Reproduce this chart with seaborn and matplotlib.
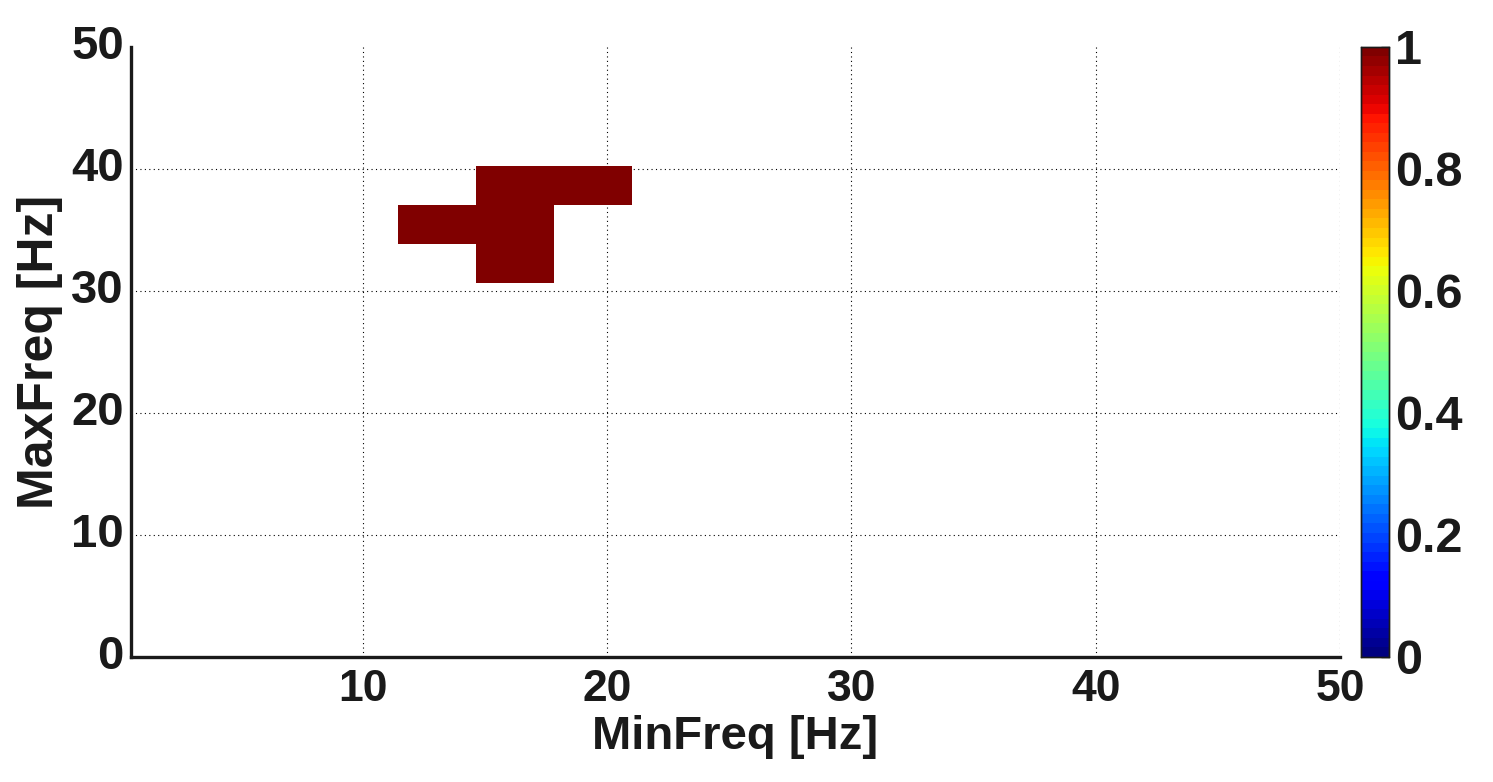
import matplotlib
matplotlib.use("Agg")
import matplotlib.pyplot as plt
import numpy as np
import seaborn as sns
from matplotlib.ticker import FuncFormatter

# frequency bins (Hz) of the search grid
bin_width = 3.197
first_edge = -1.358
n_bins = 17

# cells with a non-zero score (bin centres in Hz)
min_freq_hot = [16.2, 19.4, 13.0, 16.2, 16.2]
max_freq_hot = [38.6, 38.6, 35.4, 35.4, 32.2]
hot_value = [1.0, 1.0, 1.0, 1.0, 1.0]

x_ticks = [10, 20, 30, 40, 50]
y_ticks = [0, 10, 20, 30, 40, 50]
cbar_ticks = [0, 0.2, 0.4, 0.6, 0.8, 1.0]


def to_cell(hz):
    return (np.asarray(hz, dtype=float) - first_edge) / bin_width


score = np.full((n_bins, n_bins), np.nan)
for fx, fy, v in zip(min_freq_hot, max_freq_hot, hot_value):
    score[int(to_cell(fy)), int(to_cell(fx))] = v

sns.set_style("white")
plt.rcParams["font.family"] = ["Liberation Sans", "DejaVu Sans"]
plt.rcParams["font.weight"] = "bold"

fig = plt.figure(figsize=(14.93, 7.82), dpi=100)
ax = fig.add_axes([0.0877, 0.160, 0.8098, 0.780])
cax = fig.add_axes([0.9116, 0.160, 0.0188, 0.780])

sns.heatmap(
    score,
    cmap=plt.get_cmap("jet", 64),
    vmin=0,
    vmax=1,
    ax=ax,
    cbar_ax=cax,
    cbar_kws={"ticks": cbar_ticks},
)

ax.set_xlim(to_cell(0.5), to_cell(50))
ax.set_ylim(to_cell(0), to_cell(50))
ax.set_xticks(to_cell(x_ticks))
ax.set_xticklabels([str(t) for t in x_ticks], rotation=0)
ax.set_yticks(to_cell(y_ticks))
ax.set_yticklabels([str(t) for t in y_ticks], rotation=0)

ax.set_axisbelow(True)
ax.grid(True, color="black", linestyle=(0, (1, 3)), linewidth=0.8)
# no dotted line along the top edge
ax.yaxis.get_gridlines()[-1].set_visible(False)
for side in ["left", "bottom"]:
    ax.spines[side].set_visible(True)
    ax.spines[side].set_color("#1a1a1a")
    ax.spines[side].set_linewidth(2.4)
for side in ["top", "right"]:
    ax.spines[side].set_visible(False)

ax.tick_params(axis="both", direction="in", length=8, width=1, labelsize=34,
               colors="#1a1a1a")
ax.tick_params(axis="x", pad=9, labelsize=32)
ax.tick_params(axis="y", pad=5)
for lab in ax.get_xticklabels() + ax.get_yticklabels():
    lab.set_fontweight("bold")

ax.set_xlabel("MinFreq [Hz]", fontsize=34, fontweight="bold", color="#1a1a1a", labelpad=3)
ax.set_ylabel("MaxFreq [Hz]", fontsize=36, fontweight="bold", color="#1a1a1a", labelpad=6)

cax.tick_params(direction="in", length=6, width=1, labelsize=35, colors="#1a1a1a", pad=4)
cax.yaxis.set_major_formatter(FuncFormatter(lambda v, p: f"{v:g}"))
for lab in cax.get_yticklabels():
    lab.set_fontweight("bold")
for s in cax.spines.values():
    s.set_visible(True)
    s.set_linewidth(1)
    s.set_color("#1a1a1a")

fig.savefig("out.png", dpi=100)
